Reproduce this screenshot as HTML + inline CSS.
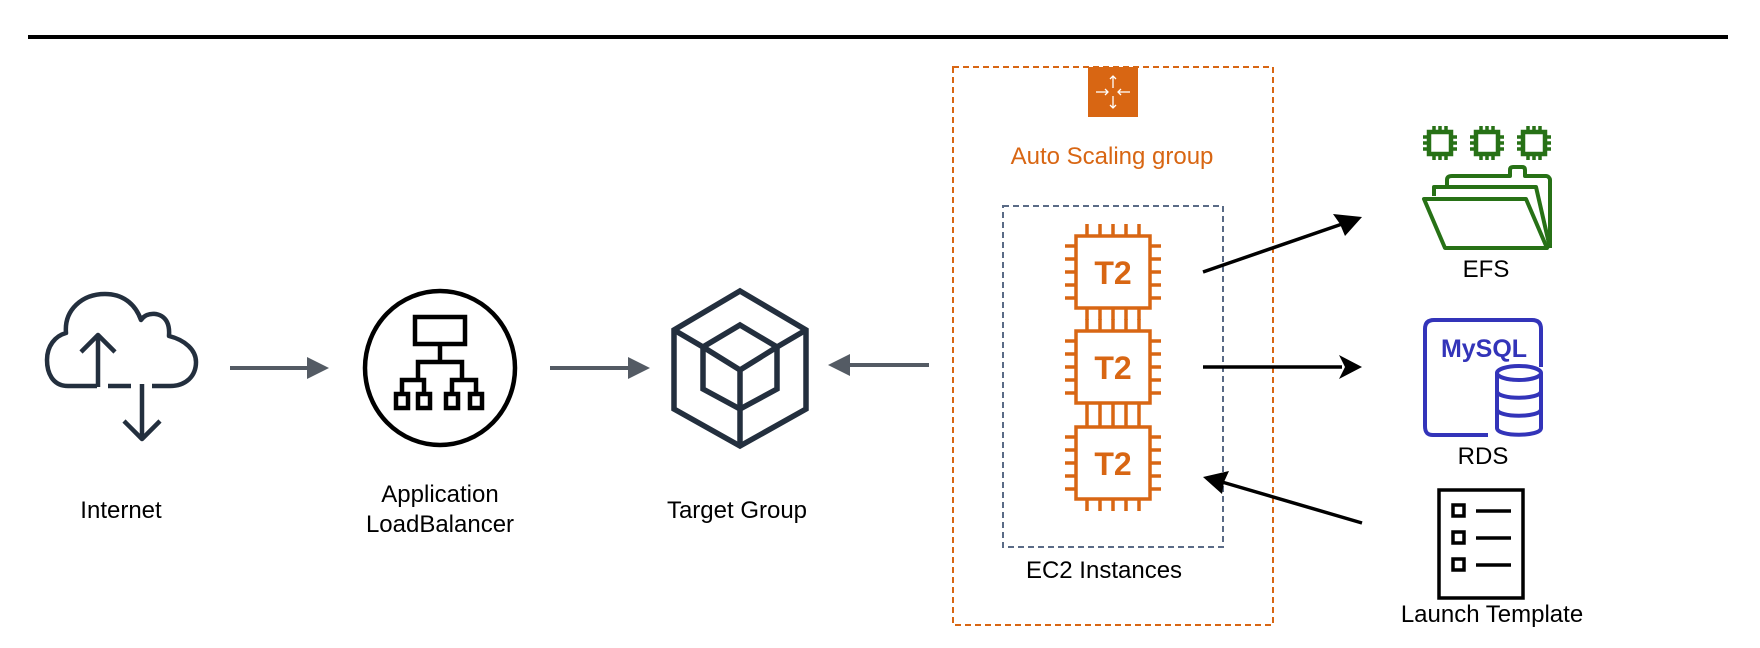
<!DOCTYPE html>
<html><head><meta charset="utf-8"><style>
html,body{margin:0;padding:0;background:#fff;}
svg{display:block;}
text{font-family:"Liberation Sans",Arial,sans-serif;}
</style></head><body>
<svg width="1760" height="648" viewBox="0 0 1760 648" xmlns="http://www.w3.org/2000/svg">
<defs>
<g id="chip">
<rect x="-37" y="-36" width="74" height="72" fill="#fff" stroke="#D86613" stroke-width="3.5"/>
<g stroke="#D86613" stroke-width="3.5">
<line x1="-37" y1="-26" x2="-48" y2="-26"/><line x1="-37" y1="-13" x2="-48" y2="-13"/><line x1="-37" y1="0" x2="-48" y2="0"/><line x1="-37" y1="13" x2="-48" y2="13"/><line x1="-37" y1="26" x2="-48" y2="26"/>
<line x1="37" y1="-26" x2="48" y2="-26"/><line x1="37" y1="-13" x2="48" y2="-13"/><line x1="37" y1="0" x2="48" y2="0"/><line x1="37" y1="13" x2="48" y2="13"/><line x1="37" y1="26" x2="48" y2="26"/>
<line x1="-26" y1="-36" x2="-26" y2="-48"/><line x1="-13" y1="-36" x2="-13" y2="-48"/><line x1="0" y1="-36" x2="0" y2="-48"/><line x1="13" y1="-36" x2="13" y2="-48"/><line x1="26" y1="-36" x2="26" y2="-48"/>
<line x1="-26" y1="36" x2="-26" y2="48"/><line x1="-13" y1="36" x2="-13" y2="48"/><line x1="0" y1="36" x2="0" y2="48"/><line x1="13" y1="36" x2="13" y2="48"/><line x1="26" y1="36" x2="26" y2="48"/>
</g>
<text x="0" y="12" text-anchor="middle" font-size="32" font-weight="bold" fill="#D86613">T2</text>
</g>
<g id="gchip">
<rect x="-11" y="-11" width="22" height="22" fill="none" stroke="#277116" stroke-width="4.5"/>
<g stroke="#277116" stroke-width="3.5">
<line x1="-6" y1="-11" x2="-6" y2="-17"/><line x1="0" y1="-11" x2="0" y2="-17"/><line x1="6" y1="-11" x2="6" y2="-17"/>
<line x1="-6" y1="11" x2="-6" y2="17"/><line x1="0" y1="11" x2="0" y2="17"/><line x1="6" y1="11" x2="6" y2="17"/>
<line x1="-11" y1="-6" x2="-17" y2="-6"/><line x1="-11" y1="0" x2="-17" y2="0"/><line x1="-11" y1="6" x2="-17" y2="6"/>
<line x1="11" y1="-6" x2="17" y2="-6"/><line x1="11" y1="0" x2="17" y2="0"/><line x1="11" y1="6" x2="17" y2="6"/>
</g>
</g>
</defs>

<rect x="28" y="35" width="1700" height="4" fill="#000"/>

<!-- Internet cloud -->
<g fill="none" stroke="#232F3E" stroke-width="4.5" stroke-linejoin="round">
<path d="M97 386 H68 C52 386 47 372 47 360 C47 346 55 336 66 333 C64 310 82 294 105 294 C122 294 135 303 141 320 C147 311 162 312 167 322 C170 328 169 333 169 336 C185 340 196 350 196 362 C196 376 186 386 170 386 H152"/>
<line x1="108" y1="386" x2="131" y2="386"/>
<line x1="98" y1="387" x2="98" y2="335"/>
<polyline points="81,352 98,335 115,352"/>
<line x1="142" y1="384" x2="142" y2="438"/>
<polyline points="124,421 142,439 160,421"/>
</g>
<text x="121" y="518" text-anchor="middle" font-size="24" fill="#000">Internet</text>

<g stroke="#545B64" stroke-width="4">
<line x1="230" y1="368" x2="310" y2="368"/>
<line x1="550" y1="368" x2="630" y2="368"/>
<line x1="929" y1="365" x2="848" y2="365"/>
</g>
<g fill="#545B64">
<polygon points="329,368 307,357 307,379"/>
<polygon points="650,368 628,357 628,379"/>
<polygon points="828,365 850,354 850,376"/>
</g>

<!-- ALB -->
<ellipse cx="440" cy="368" rx="75" ry="77" fill="none" stroke="#000" stroke-width="4.5"/>
<g fill="none" stroke="#000" stroke-width="4.5">
<rect x="415" y="317" width="50" height="27"/>
<line x1="440" y1="344" x2="440" y2="362"/>
<polyline points="418,380 418,362 462,362 462,380"/>
<polyline points="402,394 402,380 424,380 424,394"/>
<polyline points="452,394 452,380 476,380 476,394"/>
<rect x="396" y="394" width="12" height="14"/>
<rect x="418" y="394" width="12" height="14"/>
<rect x="446" y="394" width="12" height="14"/>
<rect x="470" y="394" width="12" height="14"/>
</g>
<text x="440" y="502" text-anchor="middle" font-size="24" fill="#000">Application</text>
<text x="440" y="532" text-anchor="middle" font-size="24" fill="#000">LoadBalancer</text>

<!-- Target group -->
<g fill="none" stroke="#232F3E" stroke-width="5.5">
<polygon points="740,291 806,330 806,409 740,446 674,409 674,330"/>
<polygon points="740,325 777,347 777,389 740,409 703,389 703,347"/>
<polyline points="703,347 740,370 777,347"/>
<line x1="740" y1="370" x2="740" y2="446"/>
<line x1="674" y1="330" x2="703" y2="347"/>
<line x1="806" y1="330" x2="777" y2="347"/>
</g>
<text x="737" y="518" text-anchor="middle" font-size="24" fill="#000">Target Group</text>

<!-- ASG -->
<rect x="953" y="67" width="320" height="558" fill="none" stroke="#D86613" stroke-width="2" stroke-dasharray="6,4"/>
<rect x="1088" y="67" width="50" height="50" fill="#D86613"/>
<g stroke="#fff" stroke-width="1.3" fill="none">
<line x1="1113" y1="76" x2="1113" y2="88"/><polyline points="1110,79 1113,76 1116,79"/>
<line x1="1113" y1="96" x2="1113" y2="108"/><polyline points="1110,105 1113,108 1116,105"/>
<line x1="1096" y1="92" x2="1108" y2="92"/><polyline points="1105,89 1108,92 1105,95"/>
<line x1="1118" y1="92" x2="1130" y2="92"/><polyline points="1121,89 1118,92 1121,95"/>
</g>
<text x="1112" y="164" text-anchor="middle" font-size="24" fill="#D86613">Auto Scaling group</text>

<rect x="1003" y="206" width="220" height="341" fill="none" stroke="#5A6B86" stroke-width="2" stroke-dasharray="6,4"/>
<use href="#chip" x="1113" y="272"/>
<use href="#chip" x="1113" y="367"/>
<use href="#chip" x="1113" y="463"/>
<text x="1104" y="578" text-anchor="middle" font-size="24" fill="#000">EC2 Instances</text>

<!-- black arrows -->
<g stroke="#000" stroke-width="3.5">
<line x1="1203" y1="272" x2="1345" y2="223"/>
<line x1="1203" y1="367" x2="1342" y2="367"/>
<line x1="1362" y1="523" x2="1222" y2="482"/>
</g>
<g fill="#000">
<polygon points="1362,217 1333,214 1340,224 1345,236"/>
<polygon points="1362,367 1339,355 1345,367 1339,379"/>
<polygon points="1203,477 1222,494 1224,482 1229,471"/>
</g>

<!-- EFS -->
<use href="#gchip" x="1440" y="143"/>
<use href="#gchip" x="1487" y="143"/>
<use href="#gchip" x="1534" y="143"/>
<g fill="none" stroke="#277116" stroke-width="4" stroke-linejoin="round">
<path d="M1447 188 V180 C1447 177 1449 176 1452 176 H1510 V170 C1510 168 1511 167 1513 167 H1522 C1524 167 1525 168 1525 170 V176 H1546 C1548 176 1550 178 1550 180 V248"/>
<path d="M1434 196 V187 H1536 L1550 248"/>
<path d="M1424 199 H1526 L1547 248 H1445 Z"/>
</g>
<text x="1486" y="277" text-anchor="middle" font-size="24" fill="#000">EFS</text>

<!-- RDS -->
<g fill="none" stroke="#3334B9" stroke-width="4">
<path d="M1488 435 H1433 C1427 435 1425 432 1425 426 V329 C1425 323 1428 320 1434 320 H1532 C1538 320 1541 323 1541 329 V367"/>
<ellipse cx="1519" cy="373" rx="22" ry="7"/>
<path d="M1497 373 V428 C1497 437 1541 437 1541 428 V373"/>
<path d="M1497 391 C1497 400 1541 400 1541 391"/>
<path d="M1497 409 C1497 418 1541 418 1541 409"/>
</g>
<text x="1484" y="357" text-anchor="middle" font-size="25" font-weight="bold" fill="#3334B9" font-family="DejaVu Sans Condensed, DejaVu Sans, sans-serif">MySQL</text>
<text x="1483" y="464" text-anchor="middle" font-size="24" fill="#000">RDS</text>

<!-- Launch template -->
<g fill="none" stroke="#000" stroke-width="3.5">
<rect x="1439" y="490" width="84" height="108"/>
<rect x="1453" y="505" width="11" height="11"/>
<rect x="1453" y="532" width="11" height="11"/>
<rect x="1453" y="559" width="11" height="11"/>
<line x1="1476" y1="511" x2="1511" y2="511"/>
<line x1="1476" y1="538" x2="1511" y2="538"/>
<line x1="1476" y1="565" x2="1511" y2="565"/>
</g>
<text x="1492" y="622" text-anchor="middle" font-size="24" fill="#000">Launch Template</text>
</svg>
</body></html>
